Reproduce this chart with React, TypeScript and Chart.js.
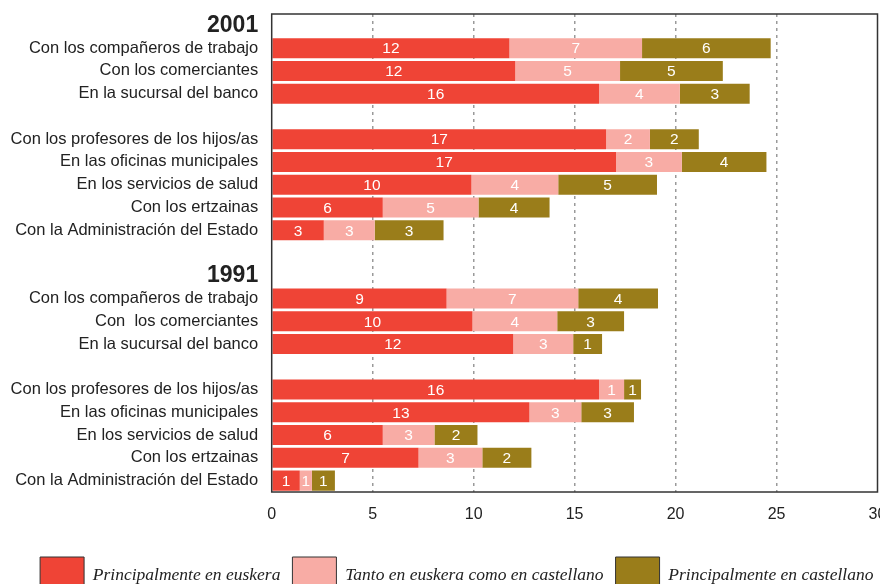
import React, { useEffect, useRef } from "react";
import { Chart, registerables } from "chart.js";

Chart.register(...registerables);

const categories: string[] = [
  "2001",
  "Con los compañeros de trabajo",
  "Con los comerciantes",
  "En la sucursal del banco",
  "",
  "Con los profesores de los hijos/as",
  "En las oficinas municipales",
  "En los servicios de salud",
  "Con los ertzainas",
  "Con la Administración del Estado",
  "",
  "1991",
  "Con los compañeros de trabajo",
  "Con  los comerciantes",
  "En la sucursal del banco",
  "",
  "Con los profesores de los hijos/as",
  "En las oficinas municipales",
  "En los servicios de salud",
  "Con los ertzainas",
  "Con la Administración del Estado",
];

const headerRows: number[] = [0, 11];

const seriesNames: string[] = [
  "Principalmente en euskera",
  "Tanto en euskera como en castellano",
  "Principalmente en castellano",
];

const euskera: (number | null)[] = [
  null, 11.77, 12.06, 16.21, null, 16.56, 17.05, 9.89, 5.5, 2.58,
  null, null, 8.66, 9.94, 11.96, null, 16.21, 12.76, 5.5, 7.27, 1.39,
];
const ambos: (number | null)[] = [
  null, 6.57, 5.19, 4.0, null, 2.17, 3.26, 4.3, 4.74, 2.52,
  null, null, 6.52, 4.2, 2.97, null, 1.24, 2.57, 2.56, 3.16, 0.6,
];
const castellano: (number | null)[] = [
  null, 6.37, 5.09, 3.46, null, 2.42, 4.19, 4.89, 3.52, 3.41,
  null, null, 3.95, 3.31, 1.43, null, 0.84, 2.61, 2.13, 2.43, 1.14,
];

const colors: string[] = ["#EF4436", "#F8ACA5", "#9A7D1A"];

const xMin = 0;
const xMax = 30;
const xStep = 5;

const SANS = '"Liberation Sans", Arial, Helvetica, sans-serif';
const SERIF = '"Liberation Serif", "Times New Roman", serif';

const valueLabels = {
  id: "valueLabels",
  afterDatasetsDraw(chart: any) {
    const ctx = chart.ctx;
    ctx.save();
    ctx.fillStyle = "#ffffff";
    ctx.font = `15.5px ${SANS}`;
    ctx.textAlign = "center";
    ctx.textBaseline = "middle";
    chart.data.datasets.forEach((ds: any, di: number) => {
      const meta = chart.getDatasetMeta(di);
      meta.data.forEach((el: any, i: number) => {
        const v = ds.data[i];
        if (v == null) return;
        const props = el.getProps(["x", "y", "base"], true);
        ctx.fillText(String(Math.round(v)), (props.x + props.base) / 2, props.y + 1);
      });
    });
    ctx.restore();
  },
};

const frame = {
  id: "frame",
  afterLayout(chart: any) {
    if (chart.legend) {
      chart.legend.left += 14;
      chart.legend.right += 14;
    }
  },
  afterDatasetsDraw(chart: any) {
    const { ctx, chartArea } = chart;
    ctx.save();
    ctx.strokeStyle = "#333333";
    ctx.lineWidth = 1.5;
    ctx.strokeRect(chartArea.left, chartArea.top, chartArea.right - chartArea.left, chartArea.bottom - chartArea.top);
    ctx.restore();
  },
};

export default function App() {
  const ref = useRef<HTMLCanvasElement | null>(null);
  useEffect(() => {
    if (!ref.current) return;
    const data = [euskera, ambos, castellano];
    const chart = new Chart(ref.current, {
      type: "bar",
      data: {
        labels: categories,
        datasets: seriesNames.map((name, i) => ({
          label: name,
          data: data[i],
          backgroundColor: colors[i],
          borderWidth: 0,
          barPercentage: 0.88,
          categoryPercentage: 1,
        })),
      },
      options: {
        indexAxis: "y",
        responsive: false,
        animation: false,
        layout: { padding: { top: 6, right: 28.5, left: 0, bottom: 0 } },
        scales: {
          x: {
            stacked: true,
            min: xMin,
            max: xMax,
            ticks: {
              stepSize: xStep,
              color: "#222",
              padding: 13,
              font: { family: SANS, size: 16 },
            },
            grid: {
              drawTicks: false,
              lineWidth: 1.5,
              color: (c: any) =>
                c.tick && (c.tick.value === xMin || c.tick.value === xMax) ? "rgba(0,0,0,0)" : "#9a9a9a",
            },
            border: { display: false, dash: [3, 4] },
            afterFit: (scale: any) => {
              scale.height = 53;
              scale.paddingLeft = 0;
              scale.paddingRight = 0;
            },
          },
          y: {
            stacked: true,
            grid: { display: false, drawTicks: false },
            border: { display: false },
            ticks: {
              autoSkip: false,
              padding: 13.5,
              color: "#222",
              font: (c: any) =>
                headerRows.includes(c.index)
                  ? { family: SANS, size: 23, weight: "bold" }
                  : { family: SANS, size: 16.5 },
            },
            afterFit: (scale: any) => {
              scale.width = 263.7;
              scale.paddingTop = 0;
              scale.paddingBottom = 0;
            },
          },
        },
        plugins: {
          legend: {
            position: "bottom",
            labels: {
              boxWidth: 44,
              boxHeight: 36,
              padding: 12,
              color: "#222",
              font: { family: SERIF, size: 17.5, style: "italic" },
              generateLabels: (chart: any) =>
                Chart.defaults.plugins.legend.labels.generateLabels(chart).map((l: any) => ({
                  ...l,
                  strokeStyle: "#333",
                  lineWidth: 1,
                })),
            },
          },
          tooltip: { enabled: false },
        },
      },
      plugins: [valueLabels, frame],
    });
    return () => chart.destroy();
  }, []);
  return (
    <>
      <style>{"html{overflow:hidden;}"}</style>
      <div style={{ width: 898, height: 595 }}>
        <canvas ref={ref} width={898} height={595} style={{ display: "block" }} />
      </div>
    </>
  );
}
